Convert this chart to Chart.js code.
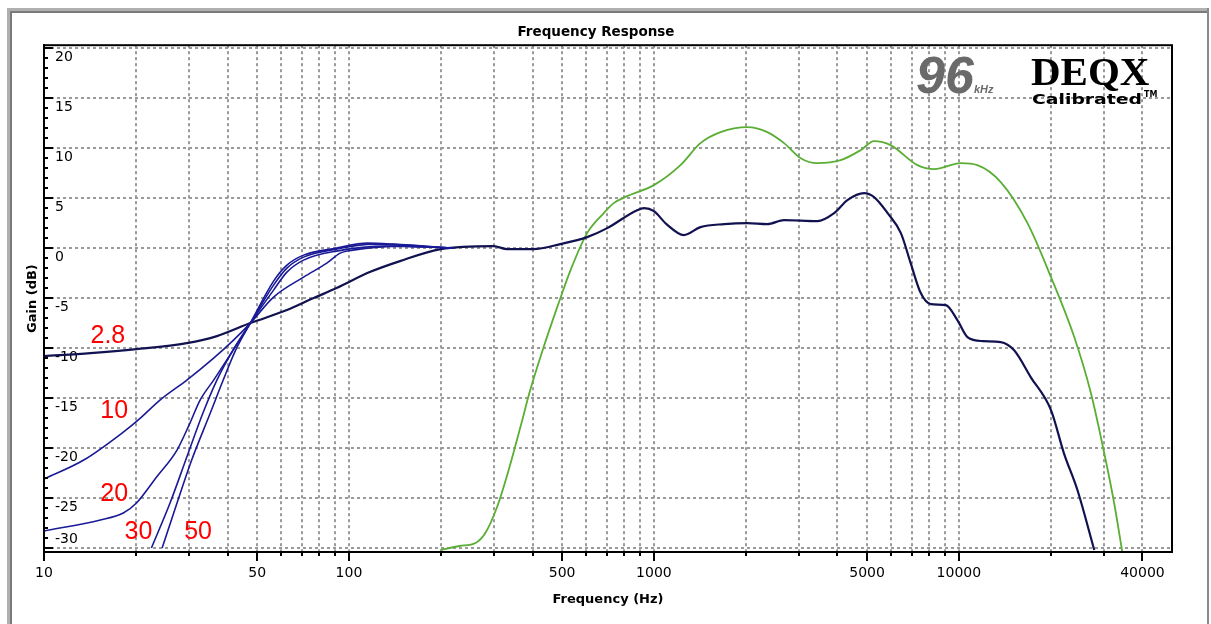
<!DOCTYPE html>
<html>
<head>
<meta charset="utf-8">
<title>Frequency Response</title>
<script src="https://cdn.jsdelivr.net/npm/chart.js@4.4.1/dist/chart.umd.min.js"></script>
<style>
  html, body { margin: 0; padding: 0; background: #fff; }
  #caixa { position: relative; width: 1211px; height: 624px; }
</style>
</head>
<body>
<div id="caixa"><canvas id="grafico"></canvas></div>
<script>
// Resposta em frequência (DEQX) — curvas

// ── Curva verde (driver de agudos) ──
const freqVerde  = [200, 230, 260, 280, 306, 334, 365, 393, 435, 482, 533, 604, 685, 738, 817,
                    1000, 1222, 1421, 1655, 2024, 2354, 2672, 3030, 3437, 4096, 4765, 5272, 5976,
                    7311, 8300, 10140, 11500, 13720, 16790, 20050, 23900, 27100, 29970, 32300, 34400];
const ganhoVerde = [-30.2, -29.8, -29.5, -28.5, -25.9, -22.2, -17.9, -14.2, -9.9, -5.9, -2.2, 1.5, 3.5, 4.5, 5.2,
                    6.3, 8.3, 10.5, 11.6, 12.1, 11.6, 10.5, 9.0, 8.5, 8.8, 9.8, 10.7, 10.3,
                    8.3, 7.9, 8.5, 8.3, 6.6, 2.5, -2.9, -8.9, -14.5, -20.5, -25.5, -30.5];

// ── Curva principal escura (passa-alta 2.8) ──
const freqPrincipal  = [10, 14.2, 20.1, 29.4, 36.9, 47.5, 62.6, 76.6, 91, 117, 147, 200, 298, 330, 403,
                        493, 604, 703, 881, 930, 1000, 1100, 1253, 1421, 1700, 2024, 2354, 2672, 3437,
                        3900, 4310, 4890, 5272, 5840, 6455, 6950, 7500, 8090, 9060, 9890, 10670, 12000,
                        13720, 15160, 17200, 20050, 22100, 24480, 27800];
const ganhoPrincipal = [-10.8, -10.5, -10.1, -9.5, -8.8, -7.5, -6.2, -5.0, -4.0, -2.4, -1.3, -0.1, 0.2, -0.1, -0.1,
                        0.4, 1.1, 2.0, 3.8, 4.0, 3.7, 2.4, 1.3, 2.1, 2.4, 2.5, 2.4, 2.8, 2.7,
                        3.5, 4.8, 5.5, 5.1, 3.5, 1.5, -1.5, -4.5, -5.6, -5.7, -7.2, -8.9, -9.3,
                        -9.4, -10.2, -12.9, -16.2, -20.5, -24.2, -30.2];

// ── Variantes do passa-alta (10, 20, 30, 50) ──
const freq10  = [10, 13.5, 18.2, 20.7, 24.0, 29.4, 36.0, 41.5, 47.5, 56.6, 71, 84.6, 93.6, 103, 150, 220];
const ganho10 = [-23.1, -21.2, -18.4, -17.0, -15.2, -13.2, -11.0, -9.3, -7.5, -4.9, -2.9, -1.5, -0.5, -0.2, 0.2, 0.0];

const freq20  = [10, 15.3, 18.2, 20.1, 23.4, 27.3, 30.1, 32.5, 36.0, 41.5, 47.5, 56.6, 62.6, 71, 91, 133, 220];
const ganho20 = [-28.3, -27.2, -26.5, -25.5, -22.9, -20.2, -17.5, -15.2, -13.2, -10.3, -7.5, -4.2, -2.4, -1.2, -0.3, 0.2, 0.0];

const freq30  = [22.5, 25.9, 29.4, 33.3, 36.9, 41.5, 47.5, 56.6, 62.6, 71, 91, 120, 220];
const ganho30 = [-30.0, -25.5, -20.9, -16.4, -13.2, -10.3, -7.5, -3.7, -2.0, -0.9, -0.1, 0.4, 0.0];

const freq50  = [24.4, 27.3, 30.5, 35.1, 38.7, 42.5, 47.5, 56.6, 62.6, 71, 91, 115, 140, 220];
const ganho50 = [-30.0, -25.5, -21.2, -16.5, -13.2, -10.2, -7.5, -3.3, -1.7, -0.7, 0.0, 0.5, 0.4, 0.0];

// ── Eixo X: posições das marcas e quais levam rótulo ──
const TICKS_X = [10, 20, 30, 40, 50, 60, 70, 80, 90,
                 100, 200, 300, 400, 500, 600, 700, 800, 900,
                 1000, 2000, 3000, 4000, 5000, 6000, 7000, 8000, 9000,
                 10000, 20000, 30000, 40000];
const ROTULOS_X = [10, 50, 100, 500, 1000, 5000, 10000, 40000];

// ── Eixo Y ──
const TICKS_Y = [-30, -25, -20, -15, -10, -5, 0, 5, 10, 15, 20];

// ── Rótulos vermelhos das curvas (posição em Hz / dB) ──
const NOMES_CURVAS = ["2.8", "10", "20", "30", "50"];
const NOMES_FREQ   = [16.2, 17.0, 17.0, 20.4, 32.0];
const NOMES_GANHO  = [-8.8, -16.3, -24.6, -28.4, -28.4];

const FONTE = "'DejaVu Sans', sans-serif";


// ================================================================
// Utilitário: junta dois arrays em pontos {x, y}
// ================================================================

function pontos(freqs, ganhos) {
  return freqs.map((f, i) => ({ x: f, y: ganhos[i] }));
}

function serie(freqs, ganhos, cor, largura) {
  return {
    data: pontos(freqs, ganhos),
    borderColor: cor,
    borderWidth: largura,
    pointRadius: 0,
    fill: false,
    cubicInterpolationMode: "monotone",
  };
}


// ================================================================
// Plugin: moldura, marcas menores, logotipo e rótulos vermelhos
// ================================================================

const pluginDesenho = {
  id: "desenho",

  beforeDraw(chart) {
    const ctx = chart.ctx;
    ctx.save();
    ctx.fillStyle = "#fff";
    ctx.fillRect(0, 0, chart.width, chart.height);

    // moldura cinza da janela
    ctx.fillStyle = "#b0b0b0";
    ctx.fillRect(7, 8, 1202, 3);
    ctx.fillRect(7, 8, 3, chart.height);
    ctx.fillStyle = "#7a7a7a";
    ctx.fillRect(10, 11, 1197, 2);
    ctx.fillRect(10, 11, 2, chart.height);
    ctx.fillStyle = "#8a8a8a";
    ctx.fillRect(1207, 8, 2, chart.height);
    ctx.restore();
  },

  afterDraw(chart) {
    const ctx = chart.ctx;
    const area = chart.chartArea;
    const ex = chart.scales.x;
    const ey = chart.scales.y;

    ctx.save();

    // borda preta da área do gráfico
    ctx.strokeStyle = "#000";
    ctx.lineWidth = 2;
    ctx.strokeRect(area.left, area.top, area.right - area.left, area.bottom - area.top);

    // marcas do eixo X (para baixo)
    ctx.lineWidth = 2;
    ex.ticks.forEach(t => {
      const px = Math.round(ex.getPixelForValue(t.value));
      const tam = ROTULOS_X.includes(t.value) ? 9 : 4;
      ctx.beginPath();
      ctx.moveTo(px, area.bottom);
      ctx.lineTo(px, area.bottom + tam);
      ctx.stroke();
    });

    // marcas do eixo Y a cada 1 dB (para dentro)
    for (let v = -30; v <= 20; v++) {
      const py = Math.round(ey.getPixelForValue(v));
      const tam = v % 5 === 0 ? 9 : 4;
      ctx.beginPath();
      ctx.moveTo(area.left, py);
      ctx.lineTo(area.left + tam, py);
      ctx.stroke();
    }

    // rótulo -30 fica acima do eixo
    ctx.fillStyle = "#000";
    ctx.font = "14px " + FONTE;
    ctx.textAlign = "left";
    ctx.textBaseline = "middle";
    ctx.fillText("-30", area.left + 11, ey.getPixelForValue(-30) - 9);

    // rótulos vermelhos das curvas
    ctx.fillStyle = "#ff0000";
    ctx.font = "25px 'Liberation Sans', Arial, sans-serif";
    ctx.textAlign = "center";
    ctx.textBaseline = "middle";
    NOMES_CURVAS.forEach((nome, i) => {
      ctx.fillText(nome, ex.getPixelForValue(NOMES_FREQ[i]), ey.getPixelForValue(NOMES_GANHO[i]));
    });

    // logotipo "96 kHz  DEQX Calibrated"
    const dx = area.right;
    const dy = area.top;
    ctx.textAlign = "left";
    ctx.textBaseline = "alphabetic";
    ctx.fillStyle = "#6a6a6a";
    ctx.font = "italic bold 52px 'Liberation Sans', Arial, sans-serif";
    ctx.fillText("96", dx - 256, dy + 48);
    ctx.font = "italic bold 11px 'Liberation Sans', Arial, sans-serif";
    ctx.fillText("kHz", dx - 198, dy + 48);

    ctx.fillStyle = "#000";
    ctx.font = "bold 41px 'Liberation Serif', 'Times New Roman', serif";
    ctx.fillText("DEQX", dx - 141, dy + 40);

    ctx.font = "bold 14px 'DejaVu Sans', sans-serif";
    const larg = ctx.measureText("Calibrated").width;
    ctx.save();
    ctx.translate(dx - 140, dy + 59);
    ctx.scale(110 / larg, 1);
    ctx.fillText("Calibrated", 0, 0);
    ctx.restore();
    ctx.font = "bold 8px 'DejaVu Sans', sans-serif";
    ctx.fillText("TM", dx - 28, dy + 52);

    ctx.restore();
  }
};


// ================================================================
// Gráfico
// ================================================================

const ctx = document.getElementById("grafico").getContext("2d");

new Chart(ctx, {
  type: "line",
  data: {
    datasets: [
      serie(freq50, ganho50, "#1a1a96", 1.6),
      serie(freq30, ganho30, "#1a1a96", 1.6),
      serie(freq20, ganho20, "#1a1a96", 1.6),
      serie(freq10, ganho10, "#1a1a96", 1.6),
      serie(freqPrincipal, ganhoPrincipal, "#121250", 2.2),
      serie(freqVerde, ganhoVerde, "#5aae34", 1.8),
    ]
  },
  options: {
    responsive: true,
    maintainAspectRatio: false,
    animation: false,
    devicePixelRatio: 1,
    layout: { padding: { left: 20, right: 39, top: 14, bottom: 13 } },
    plugins: {
      legend: { display: false },
      tooltip: { enabled: false },
      title: {
        display: true,
        text: "Frequency Response",
        color: "#000",
        font: { family: FONTE, size: 13.5, weight: "bold" },
        padding: { top: 10, bottom: 5 },
      }
    },
    scales: {
      x: {
        type: "logarithmic",
        min: 10,
        max: 50000,
        afterBuildTicks: escala => {
          escala.ticks = TICKS_X.map(v => ({ value: v, major: ROTULOS_X.includes(v) }));
        },
        afterFit: escala => { escala.height = 59; },
        ticks: {
          autoSkip: false,
          maxRotation: 0,
          minRotation: 0,
          padding: 13,
          color: "#000",
          font: { family: FONTE, size: 14 },
          callback: valor => ROTULOS_X.includes(valor) ? String(valor) : "",
        },
        grid: { color: "#9a9a9a", lineWidth: 2, drawTicks: false, borderDash: [3, 3] },
        border: { display: true, color: "#000", width: 2, dash: [3, 3] },
        title: {
          display: true,
          text: "Frequency (Hz)",
          color: "#000",
          font: { family: FONTE, size: 13, weight: "bold" },
          padding: { top: 8, bottom: 4 },
        }
      },
      y: {
        min: -30.4,
        max: 20.3,
        afterBuildTicks: escala => {
          escala.ticks = TICKS_Y.map(v => ({ value: v }));
        },
        afterFit: escala => { escala.width = 24; },
        ticks: {
          mirror: true,
          padding: 11,
          labelOffset: 9,
          color: "#000",
          font: { family: FONTE, size: 14 },
          callback: valor => valor === -30 ? "" : String(valor),
        },
        grid: { color: "#9a9a9a", lineWidth: 2, drawTicks: false, borderDash: [3, 3] },
        border: { display: true, color: "#000", width: 2, dash: [3, 3] },
        title: {
          display: true,
          text: "Gain (dB)",
          color: "#000",
          font: { family: FONTE, size: 13, weight: "bold" },
          padding: { top: 5, bottom: 4 },
        }
      }
    }
  },
  plugins: [pluginDesenho]
});
</script>
</body>
</html>
